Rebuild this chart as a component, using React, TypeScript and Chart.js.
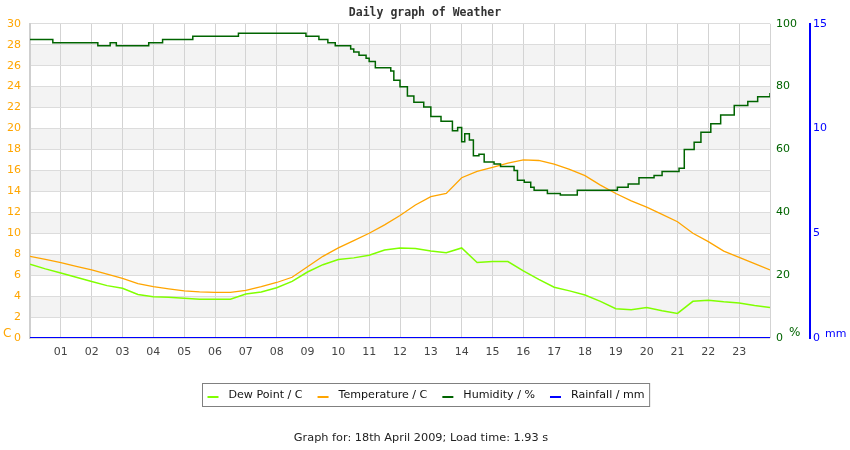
import React, { useEffect, useRef } from "react";
import { Chart, registerables } from "chart.js";

Chart.register(...registerables);

// readings every half hour, 00:00 .. 24:00
const hours = [
  0, 0.5, 1, 1.5, 2, 2.5, 3, 3.5, 4, 4.5, 5, 5.5, 6, 6.5, 7, 7.5, 8, 8.5, 9, 9.5, 10, 10.5,
  11, 11.5, 12, 12.5, 13, 13.5, 14, 14.5, 15, 15.5, 16, 16.5, 17, 17.5, 18, 18.5, 19, 19.5,
  20, 20.5, 21, 21.5, 22, 22.5, 23, 23.5, 24,
];

const temperature = [
  7.8, 7.5, 7.2, 6.85, 6.5, 6.1, 5.7, 5.2, 4.9, 4.7, 4.5, 4.4, 4.35, 4.35, 4.55, 4.9, 5.3,
  5.8, 6.8, 7.8, 8.6, 9.3, 10.0, 10.8, 11.7, 12.7, 13.5, 13.8, 15.3, 15.9, 16.3, 16.7, 17.0,
  16.95, 16.6, 16.1, 15.5, 14.6, 13.8, 13.1, 12.5, 11.8, 11.1, 10.0, 9.2, 8.3, 7.7, 7.1, 6.5,
];

const dewPoint = [
  7.05, 6.6, 6.2, 5.8, 5.4, 5.0, 4.75, 4.15, 3.95, 3.9, 3.8, 3.7, 3.7, 3.7, 4.2, 4.4, 4.8,
  5.4, 6.3, 7.0, 7.5, 7.65, 7.9, 8.4, 8.6, 8.55, 8.3, 8.15, 8.6, 7.2, 7.3, 7.3, 6.4, 5.6,
  4.85, 4.5, 4.1, 3.5, 2.8, 2.7, 2.9, 2.6, 2.35, 3.5, 3.6, 3.45, 3.35, 3.1, 2.9,
];

const rainfall = [
  0, 0, 0, 0, 0, 0, 0, 0, 0, 0, 0, 0, 0, 0, 0, 0, 0, 0, 0, 0, 0, 0, 0, 0, 0, 0, 0, 0, 0, 0,
  0, 0, 0, 0, 0, 0, 0, 0, 0, 0, 0, 0, 0, 0, 0, 0, 0, 0, 0,
];

// humidity only changes in whole steps, so it is kept as change points
const humidityTimes = [
  0, 0.74, 2.2, 2.6, 2.8, 3.85, 4.3, 5.28, 6.76, 8.95, 9.37, 9.66, 9.9, 10.4, 10.5, 10.67,
  10.9, 11.0, 11.2, 11.7, 11.8, 12.0, 12.24, 12.45, 12.77, 13.0, 13.33, 13.7, 13.87, 14.0,
  14.1, 14.25, 14.38, 14.56, 14.73, 15.05, 15.26, 15.7, 15.81, 16.03, 16.24, 16.35, 16.78,
  17.2, 17.75, 19.05, 19.4, 19.75, 20.24, 20.5, 21.05, 21.22, 21.54, 21.76, 22.08, 22.4,
  22.84, 23.28, 23.6, 24,
];

const humidityValues = [
  95, 94, 93, 94, 93, 94, 95, 96, 97, 96, 95, 94, 93, 92, 91, 90, 89, 88, 86, 85, 82, 80, 77,
  75, 73.5, 70.5, 69, 66, 67, 62.5, 65, 63, 58, 58.5, 56, 55.4, 54.6, 53.3, 50.2, 49.6, 48,
  47, 46, 45.5, 47, 48, 49, 51, 51.7, 53, 54, 60, 62.3, 65.5, 68.2, 71, 74, 75.3, 76.8, 78,
];

const title = "Daily graph of Weather";
const footer = "Graph for: 18th April 2009; Load time: 1.93 s";

const ORANGE = "#ffa500";
const LIME = "#80ff00";
const GREEN = "#006400";
const BLUE = "#0000ff";

const textFont = "'DejaVu Sans', Verdana, sans-serif";

const decorPlugin = {
  id: "decor",
  beforeDraw(chart: any) {
    const { ctx, chartArea, scales } = chart;
    const y = scales.y;
    ctx.save();
    ctx.fillStyle = "#f3f3f3";
    for (let v = 2; v < 30; v += 4) {
      const top = y.getPixelForValue(v + 2);
      const bottom = y.getPixelForValue(v);
      ctx.fillRect(chartArea.left, top, chartArea.right - chartArea.left, bottom - top);
    }
    ctx.restore();
  },
  afterDraw(chart: any) {
    const { ctx, chartArea, scales, width } = chart;
    ctx.save();

    // unit labels next to the axes
    ctx.textBaseline = "alphabetic";
    ctx.textAlign = "left";
    ctx.font = `12px ${textFont}`;
    ctx.fillStyle = ORANGE;
    ctx.fillText("C", 3, chartArea.bottom - 1);
    ctx.fillStyle = GREEN;
    ctx.fillText("%", chartArea.right + 19, chartArea.bottom - 2);
    ctx.font = `11px ${textFont}`;
    ctx.fillStyle = BLUE;
    ctx.fillText("mm", scales.rain.left + 15, chartArea.bottom - 1);

    // legend box
    ctx.font = `11.1px ${textFont}`;
    const items = chart.data.datasets.map((d: any) => ({
      text: d.label as string,
      color: d.borderColor as string,
      w: ctx.measureText(d.label).width,
    }));
    const sw = 11;
    const gap = 10;
    const spacing = 15;
    const pad = 5;
    let total = pad * 2;
    items.forEach((it: any, i: number) => {
      total += sw + gap + it.w + (i < items.length - 1 ? spacing : 0);
    });
    const boxX = Math.round(width / 2 + 1 - total / 2) + 0.5;
    const boxY = 383.5;
    const boxH = 23;
    ctx.strokeStyle = "#808080";
    ctx.lineWidth = 1;
    ctx.strokeRect(boxX, boxY, total, boxH);
    let x = boxX + pad;
    const midY = boxY + boxH / 2;
    ctx.textBaseline = "middle";
    items.forEach((it: any) => {
      ctx.fillStyle = it.color;
      ctx.fillRect(x, midY + 1, sw, 2);
      x += sw + gap;
      ctx.fillStyle = "#111";
      ctx.fillText(it.text, x, midY);
      x += it.w + spacing;
    });

    // footer line
    ctx.font = `11.3px ${textFont}`;
    ctx.textAlign = "center";
    ctx.fillStyle = "#222";
    ctx.fillText(footer, 421, 438);
    ctx.restore();
  },
};

const App = () => {
  const canvasRef = useRef<HTMLCanvasElement>(null);

  useEffect(() => {
    if (!canvasRef.current) return;

    const chart = new Chart(canvasRef.current, {
      type: "line",
      data: {
        datasets: [
          {
            label: "Dew Point / C",
            data: hours.map((h, i) => ({ x: h, y: dewPoint[i] })),
            borderColor: LIME,
            backgroundColor: LIME,
            borderWidth: 1.5,
            yAxisID: "y",
            order: 3,
          },
          {
            label: "Temperature / C",
            data: hours.map((h, i) => ({ x: h, y: temperature[i] })),
            borderColor: ORANGE,
            backgroundColor: ORANGE,
            borderWidth: 1.3,
            yAxisID: "y",
            order: 2,
          },
          {
            label: "Humidity / %",
            data: humidityTimes.map((h, i) => ({ x: h, y: humidityValues[i] })),
            borderColor: GREEN,
            backgroundColor: GREEN,
            borderWidth: 1.5,
            stepped: true,
            yAxisID: "hum",
            order: 1,
          },
          {
            label: "Rainfall / mm",
            data: hours.map((h, i) => ({ x: h, y: rainfall[i] })),
            borderColor: BLUE,
            backgroundColor: BLUE,
            borderWidth: 2,
            yAxisID: "rain",
            order: 0,
          },
        ],
      },
      options: {
        responsive: false,
        devicePixelRatio: 1,
        animation: false,
        elements: { point: { radius: 0 } },
        layout: { padding: 0 },
        plugins: {
          legend: { display: false },
          tooltip: { enabled: false },
          title: {
            display: true,
            text: title,
            color: "#333",
            font: { family: "'DejaVu Sans Mono', monospace", size: 11.5, weight: "bold", lineHeight: 1.2 },
            padding: { top: 6, bottom: 4 },
          },
        },
        scales: {
          x: {
            type: "linear",
            min: 0,
            max: 24,
            afterFit: (s: any) => {
              s.height = 112;
            },
            grid: { color: "#d3d3d3", drawTicks: false },
            border: { display: false },
            ticks: {
              stepSize: 1,
              autoSkip: false,
              maxRotation: 0,
              padding: 8,
              color: "#444",
              font: { family: textFont, size: 11 },
              callback: (v: any) => (v > 0 && v < 24 ? String(v).padStart(2, "0") : ""),
            },
          },
          y: {
            position: "left",
            min: 0,
            max: 30,
            afterFit: (s: any) => {
              s.width = 30;
            },
            grid: { color: "#dcdcdc", drawTicks: false },
            border: { display: true, color: "#cfcfcf", width: 2 },
            ticks: {
              stepSize: 2,
              padding: 9,
              color: ORANGE,
              font: { family: textFont, size: 11 },
            },
          },
          hum: {
            position: "right",
            min: 0,
            max: 100,
            afterFit: (s: any) => {
              s.width = 40;
            },
            grid: { display: false, drawTicks: false },
            border: { display: false },
            ticks: {
              stepSize: 20,
              padding: 6,
              color: GREEN,
              font: { family: textFont, size: 11 },
            },
          },
          rain: {
            position: "right",
            min: 0,
            max: 15,
            afterFit: (s: any) => {
              s.width = 40;
            },
            grid: { display: false, drawTicks: false },
            border: { display: true, color: BLUE, width: 2 },
            ticks: {
              stepSize: 5,
              padding: 3,
              color: BLUE,
              font: { family: textFont, size: 11 },
            },
          },
        },
      },
      plugins: [decorPlugin],
    });

    return () => {
      chart.destroy();
    };
  }, []);

  return (
    <div style={{ position: "absolute", left: 0, top: 0, width: 850, height: 450 }}>
      <canvas ref={canvasRef} width={850} height={450} />
    </div>
  );
};

export default App;
